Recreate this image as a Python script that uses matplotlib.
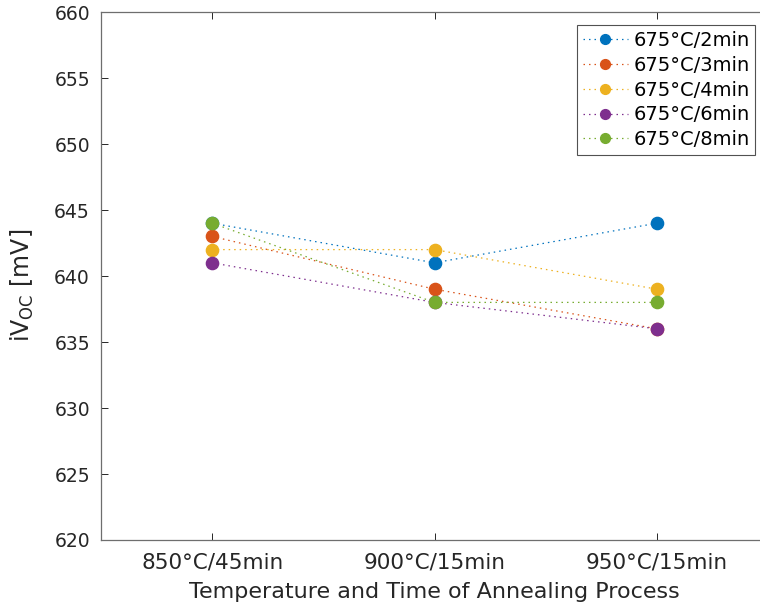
import matplotlib
matplotlib.use("Agg")
import matplotlib.pyplot as plt

categories = ["850°C/45min", "900°C/15min", "950°C/15min"]
series_names = ["675°C/2min", "675°C/3min", "675°C/4min", "675°C/6min", "675°C/8min"]
v_2min = [644, 641, 644]
v_3min = [643, 639, 636]
v_4min = [642, 642, 639]
v_6min = [641, 638, 636]
v_8min = [644, 638, 638]
yticks = [620, 625, 630, 635, 640, 645, 650, 655, 660]
colors = ["#0072BD", "#D95319", "#EDB120", "#7E2F8E", "#77AC30"]

plt.rcParams['font.family'] = ['DejaVu Sans']
fig = plt.figure(figsize=(7.6, 6.08), dpi=100)
ax = fig.add_axes([101/760, (608-540)/608, 667/760, 528/608])

x = list(range(1, len(categories) + 1))
for vals, name, c in zip([v_2min, v_3min, v_4min, v_6min, v_8min], series_names, colors):
    ax.plot(x, vals, linestyle=(0, (1.2, 3.2)), linewidth=0.9, color=c, marker='o',
            markersize=8.8, markerfacecolor=c, markeredgecolor=c, label=name)

ax.set_xlim(0.5, 3.5)
ax.set_ylim(620, 660)
ax.set_xticks(x)
ax.set_xticklabels(categories)
ax.set_yticks(yticks)
ax.tick_params(direction='in', top=True, right=True, length=5, width=0.7,
               colors='#262626')
ax.tick_params(axis='y', labelsize=13.5, pad=8)
ax.tick_params(axis='x', labelsize=15.5, pad=9)
for s in ax.spines.values():
    s.set_color('#6e6e6e')
    s.set_linewidth(0.9)
ax.set_xlabel("Temperature and Time of Annealing Process", fontsize=16, color='#262626',
              labelpad=7)
ax.set_ylabel("iV$_{\\mathregular{OC}}$ [mV]", fontsize=17, color='#262626')
ax.yaxis.set_label_coords(-(101 - 36) / 667, (540 - 285) / 528)

leg = ax.legend(loc='upper left', bbox_to_anchor=((577-101)/667, (540-25)/528),
                fontsize=14, frameon=True, fancybox=False, edgecolor='#262626',
                handlelength=2.3, handletextpad=0.3, borderpad=0.3, labelspacing=0.3,
                borderaxespad=0, markerscale=0.8)
leg.get_frame().set_linewidth(0.8)

fig.savefig("out.png", dpi=100)
